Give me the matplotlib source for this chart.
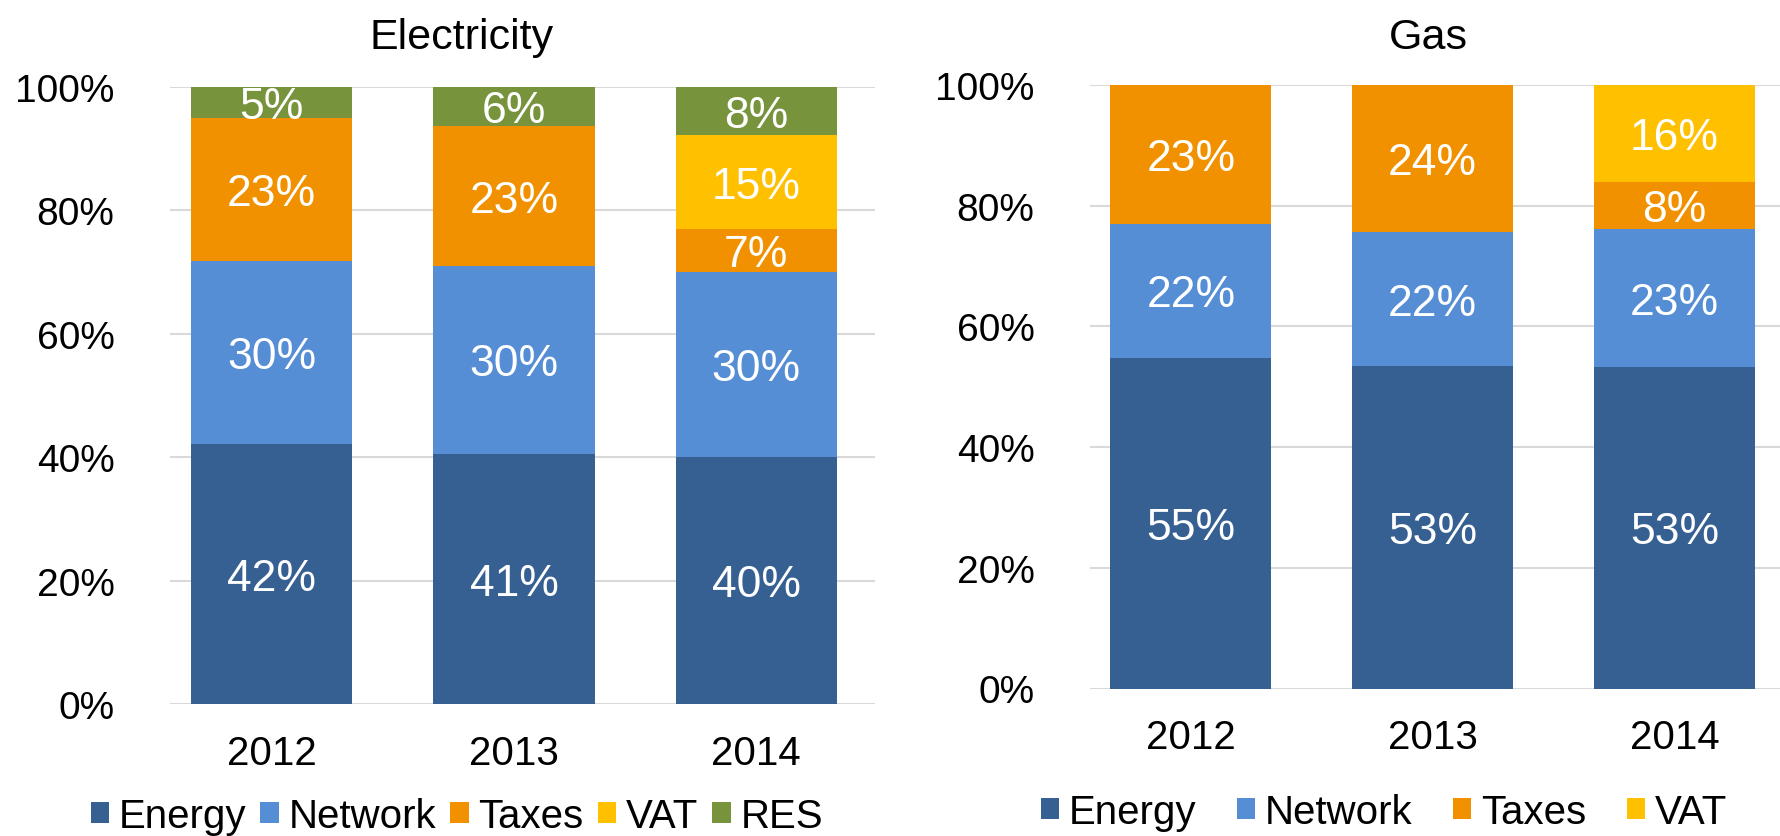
import matplotlib
matplotlib.use("Agg")
import matplotlib.pyplot as plt
import numpy as np

plt.rcParams['font.family'] = ['Liberation Sans', 'DejaVu Sans']

# datos
years = ['2012', '2013', '2014']

elec_energy = [42.1, 40.6, 40.1]
elec_network = [29.6, 30.4, 29.9]
elec_taxes = [23.2, 22.6, 7.0]
elec_vat = [0, 0, 15.1]
elec_res = [5.1, 6.4, 7.9]

gas_energy = [54.8, 53.4, 53.3]
gas_network = [22.2, 22.3, 22.8]
gas_taxes = [23.0, 24.3, 7.9]
gas_vat = [0, 0, 16.0]

colores = {
    'Energy': '#366092',
    'Network': '#558ED5',
    'Taxes': '#F29100',
    'VAT': '#FFC000',
    'RES': '#77933C',
}

W, H = 1781, 837
fig = plt.figure(figsize=(W / 100, H / 100), dpi=100)


def dibujar(ax, series, xlim):
    x = np.arange(len(years))
    abajo = np.zeros(len(years))
    for nombre, vals in series:
        vals = np.array(vals, dtype=float)
        ax.bar(x, vals, bottom=abajo, width=0.665, color=colores[nombre],
               label=nombre, zorder=3)
        for xi, v, b in zip(x, vals, abajo):
            if v > 0:
                ax.annotate(f'{v:.0f}%', (xi, b + v / 2), xytext=(0, -3),
                            textcoords='offset points', ha='center',
                            va='center', color='white', fontsize=32, zorder=4)
        abajo += vals
    ax.set_ylim(0, 100)
    ax.set_xlim(*xlim)
    ax.set_yticks([0, 20, 40, 60, 80, 100])
    ax.set_yticklabels([f'{v}%' for v in [0, 20, 40, 60, 80, 100]])
    ax.set_xticks(x)
    ax.set_xticklabels(years)
    ax.tick_params(axis='y', length=0, pad=40, labelsize=28)
    ax.tick_params(axis='x', length=0, pad=21, labelsize=29)
    ax.grid(axis='y', color='#D9D9D9', linewidth=1.5, zorder=0)
    for s in ax.spines.values():
        s.set_visible(False)


ax1 = fig.add_axes([170 / W, 1 - 705.4 / H, 705 / W, (705.4 - 87.5) / H])
dibujar(ax1, [('Energy', elec_energy), ('Network', elec_network),
              ('Taxes', elec_taxes), ('VAT', elec_vat), ('RES', elec_res)],
        (-0.42, 2.49))

ax2 = fig.add_axes([1090 / W, 1 - 689.5 / H, (W - 1090) / W, (689.5 - 86) / H])
dibujar(ax2, [('Energy', gas_energy), ('Network', gas_network),
              ('Taxes', gas_taxes), ('VAT', gas_vat)],
        (-0.417, 2.44))

fig.text(462 / W, 1 - 38 / H, 'Electricity', ha='center', va='center', fontsize=31)
fig.text(1428 / W, 1 - 38 / H, 'Gas', ha='center', va='center', fontsize=31)

h1, l1 = ax1.get_legend_handles_labels()
fig.legend(h1, l1, loc='center', bbox_to_anchor=(457 / W, 1 - 817 / H),
           ncol=5, frameon=False, fontsize=29, handlelength=0.45,
           handleheight=0.45, handletextpad=0.25, columnspacing=0.35,
           borderpad=0, borderaxespad=0)

h2, l2 = ax2.get_legend_handles_labels()
fig.legend(h2, l2, loc='center', bbox_to_anchor=(1384 / W, 1 - 813 / H),
           ncol=4, frameon=False, fontsize=29, handlelength=0.45,
           handleheight=0.45, handletextpad=0.25, columnspacing=1.0,
           borderpad=0, borderaxespad=0)

fig.savefig('out.png', dpi=100)
